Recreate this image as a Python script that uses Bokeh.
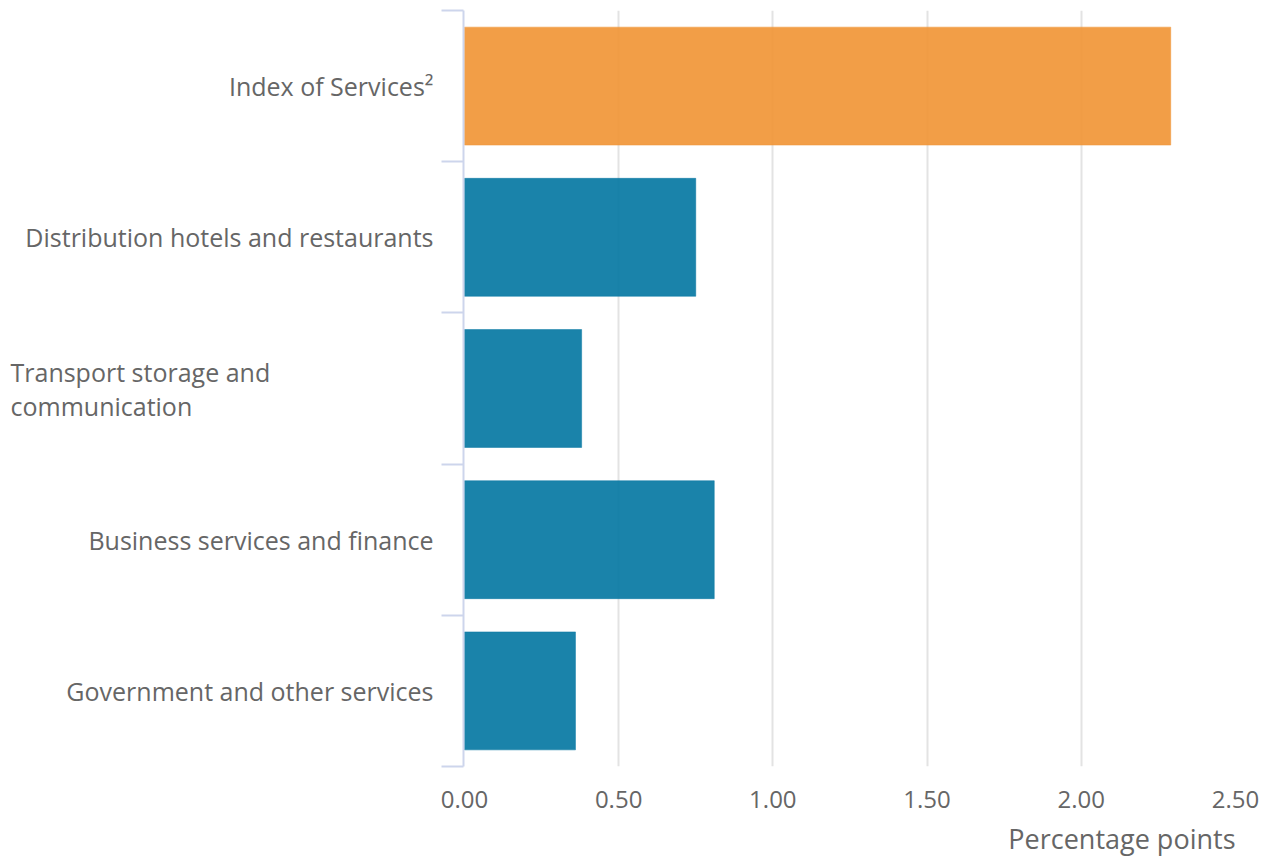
from bokeh.plotting import figure
from bokeh.layouts import row
from bokeh.models import Range1d, FixedTicker, ColumnDataSource, Title
from bokeh.core.properties import value
from bokeh.embed import file_html
from bokeh.resources import INLINE

# Data (top to bottom as shown)
categories = [
    "Index of Services\u00b2",
    "Distribution hotels and restaurants",
    "Transport storage and\ncommunication",
    "Business services and finance",
    "Government and other services",
]
values = [2.29, 0.75, 0.38, 0.81, 0.36]
colors = ["#F19637", "#0778A3", "#0778A3", "#0778A3", "#0778A3"]
x_ticks = [0.0, 0.5, 1.0, 1.5, 2.0, 2.5]
x_tick_labels = ["0.00", "0.50", "1.00", "1.50", "2.00", "2.50"]
x_title = "Percentage points"

n = len(categories)
ypos = [n - i - 0.5 for i in range(n)]

FONT = "Open Sans"
TXT = "#666666"
AX = "#cdd5ec"
CAT_FS = "25px"
LEFT_W = 440

yr = Range1d(0, n)

# ---- label panel (left) ----
lab = figure(width=LEFT_W, height=866, output_backend="svg", toolbar_location=None,
             x_range=Range1d(0, LEFT_W), y_range=yr,
             min_border_left=0, min_border_right=0, min_border_top=10, min_border_bottom=100)
lab.axis.visible = False
lab.grid.visible = False
lab.outline_line_color = None
lab.border_fill_color = "white"

single = [(y, c) for y, c in zip(ypos, categories) if "\n" not in c]
multi = [(y, c) for y, c in zip(ypos, categories) if "\n" in c]
lab.text(x=[LEFT_W - 7] * len(single), y=[s[0] for s in single], text=[s[1] for s in single],
         text_align="right", text_baseline="middle", text_font=value(FONT),
         text_font_size=CAT_FS, text_color=TXT)
lab.text(x=[10] * len(multi), y=[m[0] for m in multi], text=[m[1] for m in multi],
         text_align="left", text_baseline="middle", text_font=value(FONT),
         text_font_size=CAT_FS, text_color=TXT, text_line_height=1.0)

# ---- bar panel (right) ----
p = figure(width=1268 - LEFT_W, height=866, output_backend="svg", toolbar_location=None,
           x_range=Range1d(-0.003, 2.5), y_range=yr,
           min_border_left=23, min_border_right=33, min_border_top=10, min_border_bottom=100)
p.outline_line_color = None
p.background_fill_color = "white"
p.border_fill_color = "white"

src = ColumnDataSource(dict(y=ypos, right=values, color=colors))
p.hbar(y="y", left=0, right="right", height=0.78, source=src,
       fill_color="color", fill_alpha=0.92, line_color="color", line_alpha=0.5, line_width=1)

xa = p.xaxis[0]
xa.ticker = FixedTicker(ticks=x_ticks)
xa.major_label_overrides = {t: l for t, l in zip(x_ticks, x_tick_labels)}
xa.axis_line_color = None
xa.major_tick_line_color = None
xa.minor_tick_line_color = None
xa.major_label_standoff = 18
xa.major_label_text_font = FONT
xa.major_label_text_font_size = "24px"
xa.major_label_text_color = TXT

p.add_layout(Title(text=x_title, align="right", text_font=FONT, text_font_size="27px",
                   text_font_style="normal", text_color=TXT, standoff=15), "below")

ya = p.yaxis[0]
ya.ticker = FixedTicker(ticks=ypos, minor_ticks=[float(i) for i in range(n + 1)])
ya.major_label_text_font_size = "0px"
ya.major_label_overrides = {y: "" for y in ypos}
ya.major_label_standoff = 0
ya.axis_line_color = AX
ya.axis_line_width = 2
ya.major_tick_line_color = None
ya.major_tick_out = 0
ya.major_tick_in = 0
ya.minor_tick_line_color = AX
ya.minor_tick_line_width = 2
ya.minor_tick_out = 22
ya.minor_tick_in = 0

p.xgrid.grid_line_color = "#e3e3e3"
p.xgrid.grid_line_width = 2
p.xgrid.ticker = FixedTicker(ticks=x_ticks[1:])
p.ygrid.grid_line_color = None

layout = row(lab, p, spacing=0)
open("out.html", "w").write(file_html(layout, INLINE))
